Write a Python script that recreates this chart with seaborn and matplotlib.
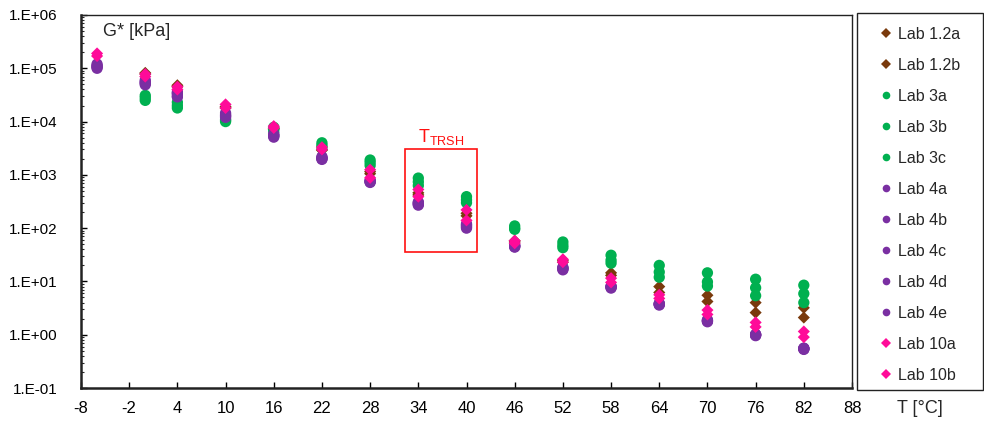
"""G* vs temperature for several labs - log scale scatter"""
import numpy as np
import pandas as pd
import matplotlib
matplotlib.use('Agg')
import matplotlib.pyplot as plt
from matplotlib.patches import Rectangle
from matplotlib.ticker import FuncFormatter, LogLocator
import seaborn as sns

# Data
temps = [-6, 0, 4, 10, 16, 22, 28, 34, 40, 46, 52, 58, 64, 70, 76, 82]
nan = np.nan

lab_12a = [nan, 8.2e4, 4.8e4, 1.9e4, 7.5e3, 3.0e3, 1.15e3, 4.6e2, 1.9e2, 5.8e1, 2.5e1, 1.45e1, 8.0, 5.5, 4.0, 3.2]
lab_12b = [nan, 7.8e4, 4.5e4, 1.8e4, 7.2e3, 2.9e3, 1.05e3, 4.2e2, 1.7e2, 5.5e1, 2.3e1, 1.3e1, 6.2, 4.2, 2.6, 2.1]
lab_3a = [nan, 3.1e4, 2.3e4, 1.1e4, 7.8e3, 4.0e3, 1.9e3, 8.7e2, 3.9e2, 1.1e2, 5.5e1, 3.1e1, 2.0e1, 1.45e1, 1.1e1, 8.5]
lab_3b = [nan, 2.8e4, 2.0e4, 1.05e4, 7.2e3, 3.6e3, 1.7e3, 7.4e2, 3.4e2, 1.0e2, 4.8e1, 2.5e1, 1.5e1, 9.8, 7.6, 5.9]
lab_3c = [nan, 2.5e4, 1.8e4, 1.0e4, 6.5e3, 3.3e3, 1.5e3, 6.3e2, 3.0e2, 9.5e1, 4.3e1, 2.2e1, 1.2e1, 8.2, 5.4, 4.0]
lab_4a = [1.2e5, 6.0e4, 3.6e4, 1.45e4, 5.9e3, 2.2e3, 8.0e2, 3.1e2, 1.2e2, 4.8e1, 1.85e1, 8.2, 3.9, 1.9, 1.02, 0.56]
lab_4b = [1.12e5, 5.6e4, 3.3e4, 1.35e4, 5.6e3, 2.1e3, 7.7e2, 2.9e2, 1.1e2, 4.6e1, 1.75e1, 7.9, 3.8, 1.85, 1.0, 0.55]
lab_4c = [1.05e5, 5.2e4, 3.0e4, 1.25e4, 5.3e3, 2.0e3, 7.4e2, 2.8e2, 1.05e2, 4.5e1, 1.7e1, 7.7, 3.7, 1.8, 0.98, 0.54]
lab_4d = [1.0e5, 4.9e4, 2.9e4, 1.2e4, 5.1e3, 1.95e3, 7.2e2, 2.7e2, 1.0e2, 4.4e1, 1.65e1, 7.5, 3.6, 1.75, 0.96, 0.53]
lab_4e = [1.08e5, 5.4e4, 3.4e4, 1.3e4, 5.5e3, 2.05e3, 7.5e2, 3.0e2, 1.15e2, 4.7e1, 1.8e1, 8.0, 3.75, 1.82, 1.0, 0.55]
lab_10a = [1.9e5, 7.8e4, 4.5e4, 2.1e4, 8.2e3, 3.3e3, 1.25e3, 5.3e2, 2.2e2, 5.8e1, 2.6e1, 1.15e1, 5.6, 2.9, 1.7, 1.15]
lab_10b = [1.7e5, 7.0e4, 4.0e4, 1.8e4, 7.6e3, 3.0e3, 8.8e2, 3.9e2, 1.4e2, 5.2e1, 2.3e1, 9.6, 4.8, 2.4, 1.4, 0.9]

labels = ['Lab 1.2a', 'Lab 1.2b', 'Lab 3a', 'Lab 3b', 'Lab 3c', 'Lab 4a', 'Lab 4b',
          'Lab 4c', 'Lab 4d', 'Lab 4e', 'Lab 10a', 'Lab 10b']
series = [lab_12a, lab_12b, lab_3a, lab_3b, lab_3c, lab_4a, lab_4b,
          lab_4c, lab_4d, lab_4e, lab_10a, lab_10b]

BROWN = '#7a3a0c'
GREEN = '#00b050'
PURPLE = '#7a2fa2'
PINK = '#ff0b99'
colors = {}
markers = {}
sizes = {}
for lab in labels:
    if lab.startswith('Lab 1.2'):
        colors[lab], markers[lab], sizes[lab] = BROWN, 'D', 38
    elif lab.startswith('Lab 3'):
        colors[lab], markers[lab], sizes[lab] = GREEN, 'o', 66
    elif lab.startswith('Lab 4'):
        colors[lab], markers[lab], sizes[lab] = PURPLE, 'o', 66
    else:
        colors[lab], markers[lab], sizes[lab] = PINK, 'D', 38

# Long form table, one block per lab so later labs draw on top
df = pd.concat([pd.DataFrame({'T': temps, 'G': vals, 'lab': lab})
                for lab, vals in zip(labels, series)], ignore_index=True)
df = df.dropna()

sns.set_style('white')
plt.rcParams['font.family'] = ['Liberation Sans', 'DejaVu Sans']
plt.rcParams['axes.unicode_minus'] = False

fig = plt.figure(figsize=(9.84, 4.23), dpi=100)
ax = fig.add_axes([81 / 984, 35 / 423, 771 / 984, 373 / 423])

sns.scatterplot(data=df, x='T', y='G', hue='lab', style='lab', size='lab',
                hue_order=labels, style_order=labels, size_order=labels,
                palette=colors, markers=markers, sizes=sizes,
                linewidth=0, ax=ax, legend='full')

ax.set_yscale('log')
ax.set_ylim(0.1, 1e6)
ax.set_xlim(-8, 88)
ax.set_xticks(np.arange(-8, 89, 6))
ax.yaxis.set_major_locator(LogLocator(base=10, numticks=10))
ax.yaxis.set_minor_locator(LogLocator(base=10, subs=np.arange(2, 10), numticks=100))
ax.yaxis.set_major_formatter(FuncFormatter(lambda v, p: f"1.E{int(round(np.log10(v))):+03d}"))
ax.set_xlabel('')
ax.set_ylabel('')
ax.xaxis.label.set_visible(False)
ax.yaxis.label.set_visible(False)
ax.tick_params(axis='both', which='major', direction='in', length=4, width=1,
               labelsize=11, colors='black')
ax.tick_params(axis='y', which='major', pad=17, left=True)
ax.tick_params(axis='x', which='major', pad=9, bottom=True, labelsize=12)
ax.tick_params(axis='y', which='minor', direction='in', length=2, width=0.8, left=True)
for lbl in ax.get_xticklabels():
    lbl.set_fontfamily(['Liberation Sans Narrow', 'Liberation Sans'])
for side in ['left', 'bottom']:
    ax.spines[side].set_linewidth(1.8)
    ax.spines[side].set_color('#222222')
for side in ['top', 'right']:
    ax.spines[side].set_linewidth(1.0)
    ax.spines[side].set_color('#222222')

# Axis titles placed like the original
ax.text(0.028, 0.955, 'G* [kPa]', transform=ax.transAxes, fontsize=13, va='center', ha='left')
fig.text(897 / 984, 1 - 408 / 423, 'T [°C]', fontsize=13, va='center', ha='left')

# Threshold box
ax.add_patch(Rectangle((32.3, 10 ** 1.554), 9.0, 10 ** 3.486 - 10 ** 1.554,
                       fill=False, edgecolor='#ff1010', linewidth=1.2))
ax.text(36.9, 10 ** 3.52, r'T$_{\mathregular{TRSH}}$', color='#ff1010', fontsize=13,
        ha='center', va='bottom')

# Legend in its own box at the right
handles, leg_labels = ax.get_legend_handles_labels()
ax.get_legend().remove()
for h in handles:
    h.set_markersize(5.5)
fig.patches.append(Rectangle((857 / 984, 1 - 390 / 423), 126 / 984, 377 / 423,
                             transform=fig.transFigure, fill=False,
                             edgecolor='#222222', linewidth=1.0))
fig.legend(handles, leg_labels, loc='upper left', bbox_to_anchor=(880 / 984, 1 - 27 / 423),
           frameon=False, borderpad=0, borderaxespad=0, handlelength=0.8,
           handletextpad=0.35, labelspacing=1.0, fontsize=11.5)

plt.savefig('out.png', dpi=100)
